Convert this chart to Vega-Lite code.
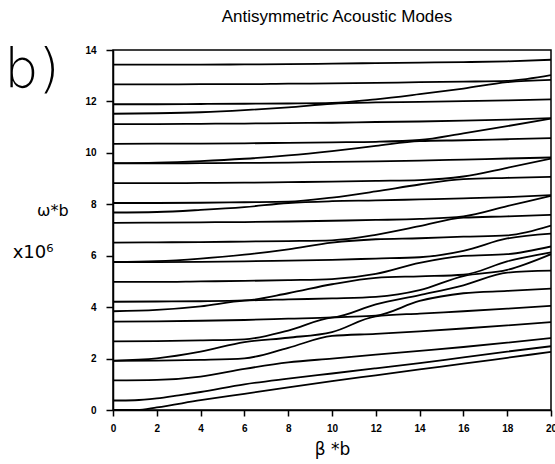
{
  "$schema": "https://vega.github.io/schema/vega-lite/v6.json",
  "width": 438,
  "height": 360,
  "autosize": {"type": "none"},
  "padding": {"left": 113, "top": 50, "right": 4, "bottom": 54},
  "background": "white",
  "config": {"view": {"stroke": "black", "strokeWidth": 1.5}, "font": "Liberation Sans"},
  "title": {"text": "Antisymmetric Acoustic Modes", "fontSize": 17, "fontWeight": "normal", "font": "Liberation Sans", "offset": 18, "dx": 5, "color": "black"},
  "layer": [
    {
      "data": {"values": [
        {"c":1,"x":0,"y":0},{"c":1,"x":1.1,"y":0},{"c":1,"x":2,"y":0.1},{"c":1,"x":4,"y":0.38},{"c":1,"x":6,"y":0.63},{"c":1,"x":8,"y":0.88},{"c":1,"x":10,"y":1.12},{"c":1,"x":12,"y":1.35},{"c":1,"x":14,"y":1.58},{"c":1,"x":16,"y":1.8},{"c":1,"x":18,"y":2.03},{"c":1,"x":20,"y":2.26},
        {"c":2,"x":0,"y":0.37},{"c":2,"x":1,"y":0.38},{"c":2,"x":2,"y":0.45},{"c":2,"x":3,"y":0.57},{"c":2,"x":4,"y":0.7},{"c":2,"x":6,"y":1.0},{"c":2,"x":8,"y":1.22},{"c":2,"x":10,"y":1.42},{"c":2,"x":12,"y":1.62},{"c":2,"x":14,"y":1.82},{"c":2,"x":16,"y":2.05},{"c":2,"x":18,"y":2.27},{"c":2,"x":20,"y":2.48},
        {"c":3,"x":0,"y":1.15},{"c":3,"x":2,"y":1.17},{"c":3,"x":4,"y":1.3},{"c":3,"x":6,"y":1.6},{"c":3,"x":8,"y":1.85},{"c":3,"x":10,"y":2.0},{"c":3,"x":12,"y":2.15},{"c":3,"x":14,"y":2.3},{"c":3,"x":16,"y":2.45},{"c":3,"x":18,"y":2.62},{"c":3,"x":20,"y":2.8},
        {"c":4,"x":0,"y":1.91},{"c":4,"x":2,"y":1.92},{"c":4,"x":4,"y":1.95},{"c":4,"x":6,"y":2.01},{"c":4,"x":8,"y":2.42},{"c":4,"x":10,"y":2.88},{"c":4,"x":12,"y":2.96},{"c":4,"x":14,"y":3.06},{"c":4,"x":16,"y":3.17},{"c":4,"x":18,"y":3.29},{"c":4,"x":20,"y":3.42},
        {"c":5,"x":0,"y":1.92},{"c":5,"x":2,"y":2.01},{"c":5,"x":4,"y":2.27},{"c":5,"x":6,"y":2.64},{"c":5,"x":8,"y":2.81},{"c":5,"x":10,"y":3.03},{"c":5,"x":12,"y":3.64},{"c":5,"x":14,"y":3.75},{"c":5,"x":16,"y":3.84},{"c":5,"x":18,"y":3.94},{"c":5,"x":20,"y":4.05},
        {"c":6,"x":0,"y":2.67},{"c":6,"x":2,"y":2.68},{"c":6,"x":4,"y":2.71},{"c":6,"x":6,"y":2.75},{"c":6,"x":8,"y":3.09},{"c":6,"x":10,"y":3.59},{"c":6,"x":12,"y":3.67},{"c":6,"x":14,"y":4.24},{"c":6,"x":16,"y":4.54},{"c":6,"x":18,"y":4.63},{"c":6,"x":20,"y":4.72},
        {"c":7,"x":0,"y":3.44},{"c":7,"x":2,"y":3.45},{"c":7,"x":4,"y":3.47},{"c":7,"x":6,"y":3.5},{"c":7,"x":8,"y":3.55},{"c":7,"x":10,"y":3.6},{"c":7,"x":12,"y":4.11},{"c":7,"x":14,"y":4.47},{"c":7,"x":16,"y":4.85},{"c":7,"x":18,"y":5.34},{"c":7,"x":20,"y":5.42},
        {"c":8,"x":0,"y":3.84},{"c":8,"x":2,"y":3.89},{"c":8,"x":4,"y":4.03},{"c":8,"x":6,"y":4.25},{"c":8,"x":8,"y":4.3},{"c":8,"x":10,"y":4.34},{"c":8,"x":12,"y":4.4},{"c":8,"x":14,"y":4.66},{"c":8,"x":16,"y":5.21},{"c":8,"x":18,"y":5.45},{"c":8,"x":20,"y":6.06},
        {"c":9,"x":0,"y":4.21},{"c":9,"x":2,"y":4.22},{"c":9,"x":4,"y":4.23},{"c":9,"x":6,"y":4.26},{"c":9,"x":8,"y":4.54},{"c":9,"x":10,"y":4.89},{"c":9,"x":12,"y":5.14},{"c":9,"x":14,"y":5.2},{"c":9,"x":16,"y":5.26},{"c":9,"x":18,"y":5.78},{"c":9,"x":20,"y":6.13},
        {"c":10,"x":0,"y":4.98},{"c":10,"x":2,"y":4.98},{"c":10,"x":4,"y":5.0},{"c":10,"x":6,"y":5.02},{"c":10,"x":8,"y":5.05},{"c":10,"x":10,"y":5.09},{"c":10,"x":12,"y":5.29},{"c":10,"x":14,"y":5.72},{"c":10,"x":16,"y":5.99},{"c":10,"x":18,"y":6.06},{"c":10,"x":20,"y":6.36},
        {"c":11,"x":0,"y":5.75},{"c":11,"x":2,"y":5.75},{"c":11,"x":4,"y":5.76},{"c":11,"x":6,"y":5.78},{"c":11,"x":8,"y":5.81},{"c":11,"x":10,"y":5.84},{"c":11,"x":12,"y":5.89},{"c":11,"x":14,"y":5.94},{"c":11,"x":16,"y":6.19},{"c":11,"x":18,"y":6.67},{"c":11,"x":20,"y":6.86},
        {"c":12,"x":0,"y":5.76},{"c":12,"x":2,"y":5.79},{"c":12,"x":4,"y":5.89},{"c":12,"x":6,"y":6.04},{"c":12,"x":8,"y":6.25},{"c":12,"x":10,"y":6.51},{"c":12,"x":12,"y":6.64},{"c":12,"x":14,"y":6.68},{"c":12,"x":16,"y":6.74},{"c":12,"x":18,"y":6.79},{"c":12,"x":20,"y":7.17},
        {"c":13,"x":0,"y":6.51},{"c":13,"x":2,"y":6.52},{"c":13,"x":4,"y":6.53},{"c":13,"x":6,"y":6.55},{"c":13,"x":8,"y":6.57},{"c":13,"x":10,"y":6.6},{"c":13,"x":12,"y":6.81},{"c":13,"x":14,"y":7.15},{"c":13,"x":16,"y":7.48},{"c":13,"x":18,"y":7.53},{"c":13,"x":20,"y":7.59},
        {"c":14,"x":0,"y":7.28},{"c":14,"x":2,"y":7.29},{"c":14,"x":4,"y":7.3},{"c":14,"x":6,"y":7.31},{"c":14,"x":8,"y":7.33},{"c":14,"x":10,"y":7.36},{"c":14,"x":12,"y":7.39},{"c":14,"x":14,"y":7.43},{"c":14,"x":16,"y":7.53},{"c":14,"x":18,"y":7.93},{"c":14,"x":20,"y":8.33},
        {"c":15,"x":0,"y":7.68},{"c":15,"x":2,"y":7.7},{"c":15,"x":4,"y":7.78},{"c":15,"x":6,"y":7.89},{"c":15,"x":8,"y":8.05},{"c":15,"x":10,"y":8.12},{"c":15,"x":12,"y":8.15},{"c":15,"x":14,"y":8.19},{"c":15,"x":16,"y":8.23},{"c":15,"x":18,"y":8.28},{"c":15,"x":20,"y":8.36},
        {"c":16,"x":0,"y":8.05},{"c":16,"x":2,"y":8.05},{"c":16,"x":4,"y":8.06},{"c":16,"x":6,"y":8.08},{"c":16,"x":8,"y":8.1},{"c":16,"x":10,"y":8.26},{"c":16,"x":12,"y":8.5},{"c":16,"x":14,"y":8.77},{"c":16,"x":16,"y":8.98},{"c":16,"x":18,"y":9.03},{"c":16,"x":20,"y":9.07},
        {"c":17,"x":0,"y":8.82},{"c":17,"x":2,"y":8.82},{"c":17,"x":4,"y":8.83},{"c":17,"x":6,"y":8.84},{"c":17,"x":8,"y":8.86},{"c":17,"x":10,"y":8.88},{"c":17,"x":12,"y":8.91},{"c":17,"x":14,"y":8.94},{"c":17,"x":16,"y":9.08},{"c":17,"x":18,"y":9.42},{"c":17,"x":20,"y":9.78},
        {"c":18,"x":0,"y":9.59},{"c":18,"x":2,"y":9.59},{"c":18,"x":4,"y":9.6},{"c":18,"x":6,"y":9.61},{"c":18,"x":8,"y":9.62},{"c":18,"x":10,"y":9.65},{"c":18,"x":12,"y":9.67},{"c":18,"x":14,"y":9.7},{"c":18,"x":16,"y":9.74},{"c":18,"x":18,"y":9.78},{"c":18,"x":20,"y":9.82},
        {"c":19,"x":0,"y":9.6},{"c":19,"x":2,"y":9.62},{"c":19,"x":4,"y":9.68},{"c":19,"x":6,"y":9.77},{"c":19,"x":8,"y":9.9},{"c":19,"x":10,"y":10.07},{"c":19,"x":12,"y":10.27},{"c":19,"x":14,"y":10.46},{"c":19,"x":16,"y":10.49},{"c":19,"x":18,"y":10.53},{"c":19,"x":20,"y":10.57},
        {"c":20,"x":0,"y":10.35},{"c":20,"x":2,"y":10.36},{"c":20,"x":4,"y":10.36},{"c":20,"x":6,"y":10.37},{"c":20,"x":8,"y":10.39},{"c":20,"x":10,"y":10.41},{"c":20,"x":12,"y":10.43},{"c":20,"x":14,"y":10.5},{"c":20,"x":16,"y":10.76},{"c":20,"x":18,"y":11.04},{"c":20,"x":20,"y":11.33},
        {"c":21,"x":0,"y":11.12},{"c":21,"x":2,"y":11.12},{"c":21,"x":4,"y":11.13},{"c":21,"x":6,"y":11.14},{"c":21,"x":8,"y":11.16},{"c":21,"x":10,"y":11.17},{"c":21,"x":12,"y":11.2},{"c":21,"x":14,"y":11.22},{"c":21,"x":16,"y":11.25},{"c":21,"x":18,"y":11.29},{"c":21,"x":20,"y":11.35},
        {"c":22,"x":0,"y":11.52},{"c":22,"x":2,"y":11.54},{"c":22,"x":4,"y":11.58},{"c":22,"x":6,"y":11.66},{"c":22,"x":8,"y":11.77},{"c":22,"x":10,"y":11.91},{"c":22,"x":12,"y":11.96},{"c":22,"x":14,"y":11.98},{"c":22,"x":16,"y":12.01},{"c":22,"x":18,"y":12.04},{"c":22,"x":20,"y":12.08},
        {"c":23,"x":0,"y":11.89},{"c":23,"x":2,"y":11.89},{"c":23,"x":4,"y":11.9},{"c":23,"x":6,"y":11.91},{"c":23,"x":8,"y":11.92},{"c":23,"x":10,"y":11.94},{"c":23,"x":12,"y":12.08},{"c":23,"x":14,"y":12.28},{"c":23,"x":16,"y":12.5},{"c":23,"x":18,"y":12.75},{"c":23,"x":20,"y":12.84},
        {"c":24,"x":0,"y":12.66},{"c":24,"x":2,"y":12.66},{"c":24,"x":4,"y":12.67},{"c":24,"x":6,"y":12.67},{"c":24,"x":8,"y":12.69},{"c":24,"x":10,"y":12.7},{"c":24,"x":12,"y":12.72},{"c":24,"x":14,"y":12.75},{"c":24,"x":16,"y":12.77},{"c":24,"x":18,"y":12.8},{"c":24,"x":20,"y":13.02},
        {"c":25,"x":0,"y":13.43},{"c":25,"x":2,"y":13.43},{"c":25,"x":4,"y":13.43},{"c":25,"x":6,"y":13.44},{"c":25,"x":8,"y":13.45},{"c":25,"x":10,"y":13.47},{"c":25,"x":12,"y":13.49},{"c":25,"x":14,"y":13.51},{"c":25,"x":16,"y":13.53},{"c":25,"x":18,"y":13.56},{"c":25,"x":20,"y":13.62}
      ]},
      "mark": {"type": "line", "color": "black", "strokeWidth": 1.8, "interpolate": "monotone", "clip": true},
      "encoding": {
        "x": {"field": "x", "type": "quantitative", "scale": {"domain": [0, 20], "nice": false, "zero": false},
          "axis": {"values": [0,1,2,3,4,5,6,7,8,9,10,11,12,13,14,15,16,17,18,19,20],
            "labelExpr": "datum.value % 2 === 0 ? datum.label : ''",
            "title": "β *b", "titleFontSize": 17, "titleFontWeight": "normal", "titleFont": "DejaVu Sans", "titleColor": "black", "titlePadding": 8,
            "labelFontWeight": "bold", "labelFontSize": 10, "labelColor": "black", "labelPadding": 7, "labelFlush": false, "labelOverlap": false,
            "tickColor": "black", "tickWidth": 1.5, "tickSize": 6, "domainColor": "black", "domainWidth": 1.5, "grid": false}},
        "y": {"field": "y", "type": "quantitative", "scale": {"domain": [0, 14], "nice": false},
          "axis": {"values": [0,1,2,3,4,5,6,7,8,9,10,11,12,13,14], "title": null,
            "labelFontWeight": "bold", "labelFontSize": 10, "labelColor": "black", "labelPadding": 10,
            "tickColor": "black", "tickWidth": 1.5, "tickSize": 7, "domainColor": "black", "domainWidth": 1.5, "grid": false}},
        "detail": {"field": "c", "type": "nominal"}
      }
    },
    {
      "data": {"values": [{"t": "b)"}]},
      "mark": {"type": "text", "font": "DejaVu Sans", "fontWeight": 200, "fontSize": 54, "align": "center", "baseline": "middle", "color": "black", "clip": false},
      "encoding": {"x": {"datum": -3.7}, "y": {"datum": 13.2}, "text": {"field": "t"}}
    },
    {
      "data": {"values": [{"t": "ω*b"}]},
      "mark": {"type": "text", "font": "DejaVu Sans", "fontSize": 16, "align": "center", "baseline": "middle", "color": "black", "clip": false},
      "encoding": {"x": {"datum": -2.75}, "y": {"datum": 7.75}, "text": {"field": "t"}}
    },
    {
      "data": {"values": [{"t": "x10⁶"}]},
      "mark": {"type": "text", "font": "DejaVu Sans", "fontSize": 18, "align": "center", "baseline": "middle", "color": "black", "clip": false},
      "encoding": {"x": {"datum": -3.65}, "y": {"datum": 6.1}, "text": {"field": "t"}}
    }
  ]
}
